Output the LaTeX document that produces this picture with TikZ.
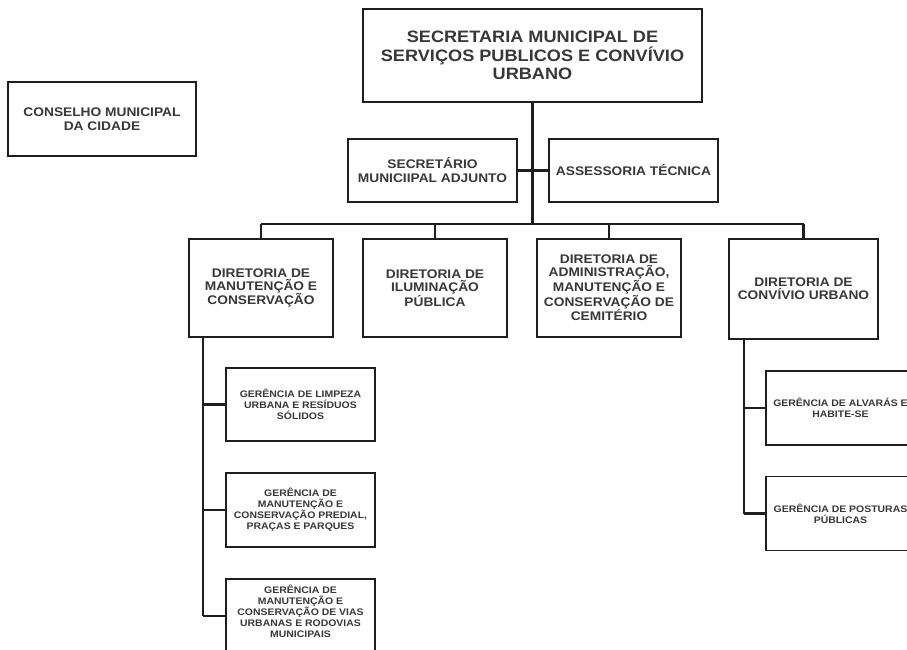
\documentclass[tikz,border=0pt]{standalone}
\usepackage{fontspec}
\setmainfont{Liberation Sans}[FakeStretch=1.1]
\usepackage{xcolor}
\usepackage{tikz}
\usetikzlibrary{calc}
\usetikzlibrary{positioning}
\definecolor{textgray}{HTML}{383838}
\definecolor{linegray}{HTML}{1E1E1E}
\begin{document}
\begin{tikzpicture}[x=1pt,y=-1pt,
		box/.style={draw=linegray,line width=1.8pt,fill=white,align=center,inner sep=2pt,text=textgray,font=\bfseries},
		topbox/.style={box,font=\fontsize{16.5}{18.3}\selectfont\bfseries},
		midbox/.style={box,font=\fontsize{12.5}{14}\selectfont\bfseries},
		dirbox/.style={box,minimum width=144,minimum height=98,font=\fontsize{12.5}{12.8}\selectfont\bfseries},
		gerbox/.style={box,minimum width=149,minimum height=74,font=\fontsize{9.5}{11}\selectfont\bfseries},
		link/.style={draw=linegray,line width=2.2pt}]
		\useasboundingbox (0,0) rectangle (907,649);
		\clip (0,0) rectangle (907,649);
		\node[midbox,minimum width=188,minimum height=74] (conselho) at (102,119) {CONSELHO MUNICIPAL\\DA CIDADE};
		\node[topbox,minimum width=339,minimum height=93] (secretaria) at (532.5,55.5) {SECRETARIA MUNICIPAL DE\\SERVIÇOS PUBLICOS E CONVÍVIO\\URBANO};
		\node[midbox,minimum width=169,minimum height=63] (adjunto) at (432.5,170.5) {SECRETÁRIO\\MUNICIIPAL ADJUNTO};
		\node[midbox,minimum width=169,minimum height=63] (assessoria) at (633.5,170.5) {ASSESSORIA TÉCNICA};
		\node[dirbox] (dirmanut) at (261,288) {DIRETORIA DE\\MANUTENÇÃO E\\CONSERVAÇÃO};
		\node[dirbox] (dirilum) at (435,288) {DIRETORIA DE\\ILUMINAÇÃO\\PÚBLICA};
		\node[dirbox] (dircemit) at (609,288) {DIRETORIA DE\\ADMINISTRAÇÃO,\\MANUTENÇÃO E\\CONSERVAÇÃO DE\\CEMITÉRIO};
		\node[dirbox,minimum width=149,minimum height=100] (dirconv) at (803.5,289) {DIRETORIA DE\\CONVÍVIO URBANO};
		\node[gerbox,minimum height=73] (gerlimp) at (300.5,404.5) {GERÊNCIA DE LIMPEZA\\URBANA E RESÍDUOS\\SÓLIDOS};
		\node[gerbox] (gerpred) at (300.5,510) {GERÊNCIA DE\\MANUTENÇÃO E\\CONSERVAÇÃO PREDIAL,\\PRAÇAS E PARQUES};
		\node[gerbox,text depth=10pt] (gervias) at (300.5,616) {GERÊNCIA DE\\MANUTENÇÃO E\\CONSERVAÇÃO DE VIAS\\URBANAS E RODOVIAS\\MUNICIPAIS};
		\node[gerbox] (geralv) at (840.5,408) {GERÊNCIA DE ALVARÁS E\\HABITE-SE};
		\node[gerbox] (gerpost) at (840.5,513.5) {GERÊNCIA DE POSTURAS\\PÚBLICAS};
		\coordinate (bus) at (532.5,224);
		\coordinate (spineL) at (203,337);
		\coordinate (spineR) at (744,339);
		\draw[link] (secretaria.south) -- (bus);
		\draw[link] (adjunto.east) -- (assessoria.west);
		\draw[link] (dirmanut.north |- bus) -- (dirconv.north |- bus);
		\foreach \d in {dirmanut,dirilum,dircemit,dirconv}
			\draw[link] (\d.north) -- (\d.north |- bus);
		\draw[link] (spineL) -- (spineL |- gervias.west);
		\foreach \g in {gerlimp,gerpred,gervias}
			\draw[link] (spineL |- \g.west) -- (\g.west);
		\draw[link] (spineR) -- (spineR |- gerpost.west);
		\foreach \g in {geralv,gerpost}
			\draw[link] (spineR |- \g.west) -- (\g.west);
	\end{tikzpicture}
\end{document}
